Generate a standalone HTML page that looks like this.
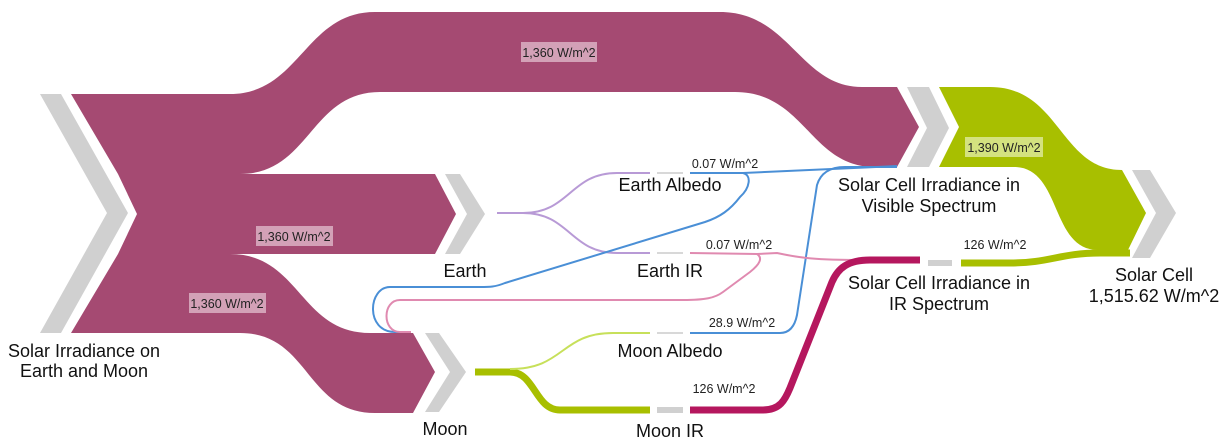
<!DOCTYPE html>
<html><head><meta charset="utf-8"><style>
html,body{margin:0;padding:0;background:#fff;}
svg{display:block;font-family:"Liberation Sans",Arial,sans-serif;}
</style></head><body>
<svg width="1229" height="445" viewBox="0 0 1229 445" xmlns="http://www.w3.org/2000/svg">
<path d="M71,94 L230,94 C300,94 305,12 375,12 L720,12 C790,12 800,87 862,87 L897,87 L919,127 L897,167 L875,167 C810,167 805,92 735,92 L380,92 C310,92 310,174 240,174 L118,174 Z" fill="#a54a72"/>
<path d="M118,174 L435,174 L456,214 L435,254 L118,254 L137,214 Z" fill="#a54a72"/>
<path d="M118,254 L230,254 C300,254 300,333 370,333 L413,333 L435,372 L413,413 L375,413 C305,413 310,333 240,333 L71,333 L118,254 Z" fill="#a54a72"/>
<path d="M939,87 L990,87 C1060,87 1060,170 1122,170 L1146,213 L1128,250 L1098,250 C1050,250 1062,167 1014,167 L939,167 L959,127 Z" fill="#a8bf00"/>
<path d="M961,263 L1010,263 C1050,263 1060,253 1100,253 L1130,253" fill="none" stroke="#a8bf00" stroke-width="7"/>
<polygon points="40,94 61,94 128,213 61,333 40,333 107,213" fill="#d0d0d0"/>
<polygon points="445,174 460,174 485,214 460,254 445,254 467,214" fill="#d0d0d0"/>
<polygon points="425,333 439,333 466,372 439,412 425,412 450,372" fill="#d0d0d0"/>
<polygon points="907,87 929,87 949,128 929,167 907,167 927,128" fill="#d0d0d0"/>
<polygon points="1132,170 1150,170 1176,213 1150,258 1132,258 1156,213" fill="#d0d0d0"/>
<g stroke="#d8d8d8" stroke-width="2" fill="none">
<line x1="657" y1="173" x2="683" y2="173"/>
<line x1="657" y1="253" x2="683" y2="253"/>
<line x1="657" y1="333" x2="683" y2="333"/>
</g>
<line x1="657" y1="410" x2="683" y2="410" stroke="#d0d0d0" stroke-width="6"/>
<line x1="928" y1="263" x2="952" y2="263" stroke="#d0d0d0" stroke-width="6"/>
<g fill="none" stroke="#b89ad6" stroke-width="2">
<path d="M497,213 L523,213 C570,213 570,173 617,173 L650,173"/>
<path d="M497,213 L523,213 C570,213 570,253 617,253 L650,253"/>
</g>
<g fill="none" stroke="#4a8fd6" stroke-width="2">
<path d="M690,173 L743,173 C752,175 750,188 740,197 C730,210 720,217 705,222 L505,283 C495,287 490,287 480,287 L390,287 C368,287 365,332 395,332 L411,332"/>
<path d="M743,173 L897,166"/>
<path d="M690,333 L780,333 C790,333 795,325 797,315 L817,185 C820,175 828,167 845,167 L897,167"/>
</g>
<g fill="none" stroke="#e08ab0" stroke-width="2">
<path d="M690,253 L757,254 C763,258 760,264 750,272 L723,292 C715,298 705,300 683,300 L400,300 C382,300 382,332 400,332 L411,332"/>
<path d="M757,254 L777,253 C800,258 815,260 863,260"/>
</g>
<path d="M475,372 L510,372 C535,372 535,410 560,410 L650,410" fill="none" stroke="#a8bf00" stroke-width="7"/>
<path d="M510,369 C565,369 560,333 613,333 L650,333" fill="none" stroke="#c7e05a" stroke-width="2"/>
<path d="M690,410 L763,410 C780,410 785,400 790,388 L832,282 C838,268 848,260 870,260 L920,260" fill="none" stroke="#b5175e" stroke-width="7"/>
<g font-size="12.5" text-anchor="middle" fill="#222">
<rect x="521" y="42" width="76" height="20" fill="#d3a1b7"/>
<text x="559" y="57">1,360 W/m^2</text>
<rect x="256" y="226" width="77" height="20" fill="#d3a1b7"/>
<text x="294" y="241">1,360 W/m^2</text>
<rect x="189" y="293" width="77" height="20" fill="#d3a1b7"/>
<text x="227" y="308">1,360 W/m^2</text>
<rect x="965" y="137" width="78" height="20" fill="#d4e27f"/>
<text x="1004" y="152">1,390 W/m^2</text>
<text x="725" y="168">0.07 W/m^2</text>
<text x="739" y="249">0.07 W/m^2</text>
<text x="742" y="327">28.9 W/m^2</text>
<text x="724" y="393">126 W/m^2</text>
<text x="995" y="249">126 W/m^2</text>
</g>
<g font-size="18" text-anchor="middle" fill="#111">
<text x="84" y="357">Solar Irradiance on</text>
<text x="84" y="377">Earth and Moon</text>
<text x="465" y="277">Earth</text>
<text x="445" y="435">Moon</text>
<text x="670" y="191">Earth Albedo</text>
<text x="670" y="277">Earth IR</text>
<text x="670" y="357">Moon Albedo</text>
<text x="670" y="437">Moon IR</text>
<text x="929" y="191">Solar Cell Irradiance in</text>
<text x="929" y="212">Visible Spectrum</text>
<text x="939" y="289">Solar Cell Irradiance in</text>
<text x="939" y="310">IR Spectrum</text>
<text x="1154" y="281">Solar Cell</text>
<text x="1154" y="302">1,515.62 W/m^2</text>
</g>
</svg>
</body></html>
